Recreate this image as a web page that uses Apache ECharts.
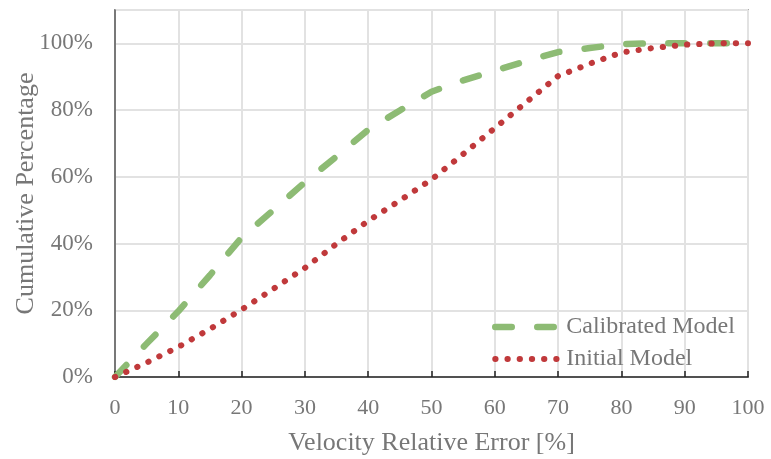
<!DOCTYPE html>
<html>
<head>
<meta charset="utf-8">
<script src="https://cdn.jsdelivr.net/npm/echarts@6/dist/echarts.min.js"></script>
<style>
  html, body { margin: 0; padding: 0; background: #fff; }
  #chart { width: 771px; height: 459px; }
</style>
</head>
<body>
<div id="chart"></div>
<script>
// Velocity relative error [%] at which each cumulative share is read
const errorPct = [0, 5, 10, 15, 20, 25, 30, 35, 40, 45, 50, 55, 60, 65, 70, 75, 80, 85, 90, 95, 100];
// Cumulative percentage of samples, calibrated model
const calibrated = [0, 10, 19.7, 30.5, 41.8, 50, 58.4, 66.1, 74.1, 79.9, 85.5, 88.9, 91.8, 94.7, 97.4, 98.6, 99.8, 100, 100, 100, 100];
// Cumulative percentage of samples, initial model
const initial = [0, 4.3, 9, 14.4, 20.2, 26.4, 32.7, 39.9, 46.8, 52.9, 59.2, 66.8, 74.6, 82.4, 90.2, 93.9, 97.25, 98.6, 99.6, 100, 100];

const seriesNames = ['Calibrated Model', 'Initial Model'];
const xTitle = 'Velocity Relative Error [%]';
const yTitle = 'Cumulative Percentage';

const pairs = (ys) => errorPct.map((x, i) => [x, ys[i]]);

const FONT = '"Liberation Serif", "Times New Roman", serif';
const TEXT = '#777777';
const GREEN = '#8dbb74';
const RED = '#c0393b';

const greenLine = { color: GREEN, width: 6.5, type: [16.5, 25.5], cap: 'round', join: 'round' };
const redLine = { color: RED, width: 6, type: [0.3, 11.9], cap: 'round', join: 'round' };

const chart = echarts.init(document.getElementById('chart'), null, { renderer: 'canvas' });
chart.setOption({
  animation: false,
  backgroundColor: '#ffffff',
  grid: {
    left: 115, right: 23, top: 10, bottom: 82,
    containLabel: false, outerBoundsMode: 'none',
    show: true, borderColor: '#6e6e6e', borderWidth: 1.5, backgroundColor: 'transparent'
  },
  xAxis: {
    type: 'value', min: 0, max: 100, interval: 10,
    name: xTitle, nameLocation: 'middle', nameGap: 53, nameMoveOverlap: false,
    nameTextStyle: { fontFamily: FONT, fontSize: 26, color: TEXT },
    axisLine: { show: true, lineStyle: { color: '#222', width: 1.5 } },
    axisTick: { show: true, inside: true, length: 6, lineStyle: { color: '#222', width: 1.5 } },
    axisLabel: { fontFamily: FONT, fontSize: 22, color: TEXT, margin: 20 },
    splitLine: { show: true, lineStyle: { color: '#e2e2e2', width: 2 } }
  },
  yAxis: {
    type: 'value', min: 0, max: 110, interval: 20,
    name: yTitle, nameLocation: 'middle', nameGap: 76, nameMoveOverlap: false,
    nameTextStyle: { fontFamily: FONT, fontSize: 26, color: TEXT },
    axisLine: { show: true, lineStyle: { color: '#555', width: 1.5 } },
    axisTick: { show: false },
    axisLabel: {
      fontFamily: FONT, fontSize: 23, color: TEXT, margin: 22,
      formatter: (v) => (v > 100.5 ? '' : v + '%')
    },
    splitLine: { show: true, lineStyle: { color: '#e2e2e2', width: 2 } }
  },
  legend: {
    orient: 'vertical', left: 487, top: 310,
    itemWidth: 62, itemHeight: 14, itemGap: 8,
    textStyle: { fontFamily: FONT, fontSize: 24, color: TEXT, lineHeight: 24, padding: [0, 0, 0, 4] },
    data: [
      { name: seriesNames[0], lineStyle: greenLine, itemStyle: { opacity: 0 } },
      { name: seriesNames[1], lineStyle: redLine, itemStyle: { opacity: 0 } }
    ]
  },
  series: [
    {
      name: seriesNames[0], type: 'line', data: pairs(calibrated),
      showSymbol: false, symbol: 'none', smooth: false,
      lineStyle: greenLine, itemStyle: { color: GREEN }
    },
    {
      name: seriesNames[1], type: 'line', data: pairs(initial),
      showSymbol: false, symbol: 'none', smooth: false,
      lineStyle: redLine, itemStyle: { color: RED }
    }
  ]
});
</script>
</body>
</html>
